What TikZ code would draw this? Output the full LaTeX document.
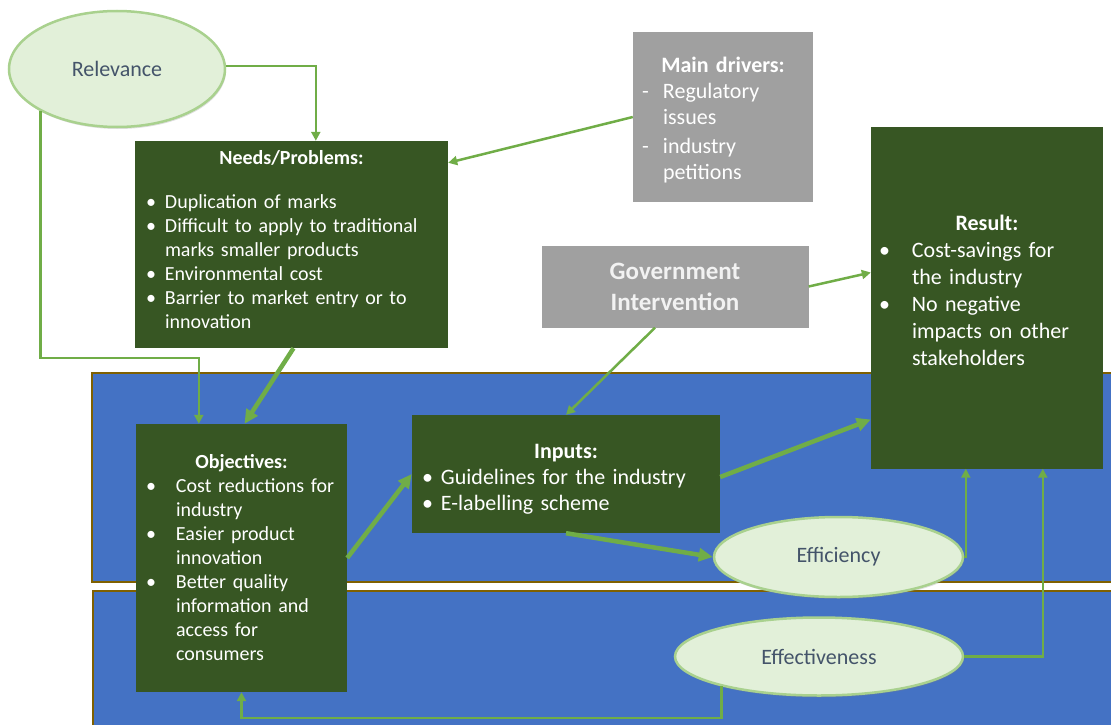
\documentclass[tikz,border=0pt]{standalone}
\usepackage{fontspec}
\setmainfont{Carlito}
\usepackage{xcolor}
\usepackage{tikz}
\usetikzlibrary{positioning, shapes.geometric, arrows.meta, shadows}

\definecolor{bandblue}{HTML}{4472C4}
\definecolor{bandedge}{HTML}{7F6000}
\definecolor{darkgreen}{HTML}{375623}
\definecolor{boxgray}{HTML}{A0A0A0}
\definecolor{linegreen}{HTML}{70AD47}
\definecolor{ovalfill}{HTML}{E2F0D9}
\definecolor{ovaledge}{HTML}{A9D18E}
\definecolor{ovaltext}{HTML}{44546A}

% one list line: symbol, indent, text
\newcommand{\itm}[3]{\par\hangindent=#2\hangafter=1\noindent\makebox[#2][l]{#1}#3}

\tikzset{
  greenbox/.style={fill=darkgreen, text=white, align=left, inner ysep=0pt},
  graybox/.style={fill=boxgray, text=white, inner ysep=0pt},
  oval/.style={ellipse, fill=ovalfill, draw=ovaledge, line width=2.5pt, text=ovaltext, inner sep=0pt,
    font=\fontsize{22}{26}\selectfont, drop shadow={opacity=0.25, shadow xshift=1pt, shadow yshift=-2pt}},
  link/.style={draw=linegreen, line width=2.5pt, -{Triangle[length=9pt,width=9pt]}},
  biglink/.style={draw=linegreen, line width=4.5pt, -{Triangle[length=14pt,width=13pt]}}
}

\begin{document}
\begin{tikzpicture}[x=1pt, y=-1pt]
            \useasboundingbox (0,0) rectangle (1111,725);
            \clip (0,0) rectangle (1111,725);

            % Draw the two blue bands
            \draw[fill=bandblue, draw=bandedge, line width=2.5pt] (92,373) rectangle (1130,582);
            \draw[fill=bandblue, draw=bandedge, line width=2.5pt] (93,591) rectangle (1130,745);

            % Draw the boxes
            \node[greenbox, text width=291pt, inner xsep=11pt, minimum height=207pt,
                  font=\fontsize{20}{24}\selectfont] (needs) at (291.5,244.5)
                {{\centering\bfseries Needs/Problems:\par}\vspace{20pt}
                 \itm{\textbullet}{19pt}{Duplication of marks}
                 \itm{\textbullet}{19pt}{Difficult to apply to traditional\newline marks smaller products}
                 \itm{\textbullet}{19pt}{Environmental cost}
                 \itm{\textbullet}{19pt}{Barrier to market entry or to\newline innovation}\par\vspace{10pt}};
            \node[graybox, align=left, text width=162pt, inner xsep=9pt, minimum height=170pt,
                  font=\fontsize{22}{26}\selectfont] (drivers) at (723,117)
                {{\centering\bfseries Main drivers:\par}
                 \itm{-}{21pt}{Regulatory\newline issues}\par\vspace{3pt}
                 \itm{-}{21pt}{industry\newline petitions}\par\vspace{-6pt}};
            \node[graybox, text=white!95!black, align=center, minimum width=267pt, minimum height=82pt,
                  font=\fontsize{25}{31}\selectfont\bfseries] (gov) at (675,286.5)
                {Government\\Intervention};
            \node[greenbox, text width=216pt, inner xsep=8pt, minimum height=342pt,
                  font=\fontsize{22}{27}\selectfont] (res) at (987,297.5)
                {{\centering\bfseries Result:\par}
                 \itm{\textbullet}{33pt}{Cost-savings for\newline the industry}
                 \itm{\textbullet}{33pt}{No negative\newline impacts on other\newline stakeholders}\par\vspace{14pt}};
            \node[greenbox, text width=191pt, inner xsep=10pt, minimum height=268pt,
                  font=\fontsize{20}{24}\selectfont] (obj) at (241.5,558)
                {{\centering\bfseries Objectives:\par}
                 \itm{\textbullet}{30pt}{Cost reductions for\newline industry}
                 \itm{\textbullet}{30pt}{Easier product\newline innovation}
                 \itm{\textbullet}{30pt}{Better quality\newline information and\newline access for\newline consumers}\par};
            \node[greenbox, text width=288pt, inner xsep=10pt, minimum height=118pt,
                  font=\fontsize{22}{26}\selectfont] (inp) at (566,474)
                {{\centering\bfseries Inputs:\par}
                 \itm{\textbullet}{19pt}{Guidelines for the industry}
                 \itm{\textbullet}{19pt}{E-labelling scheme}\par\vspace{-10pt}};

            % Draw the ovals
            \node[oval, minimum width=216pt, minimum height=116pt] (rel) at (117,69) {Relevance};
            \node[oval, minimum width=249pt, minimum height=80pt] (effi) at (838.5,557) {Efficiency};
            \node[oval, minimum width=288pt, minimum height=78pt] (effe) at (819,656.5) {Effectiveness};

            % Draw the links
            \draw[link] ([yshift=3pt]rel.east) -| ([xshift=181pt]needs.north west);
            \draw[link] (rel.209) -- (rel.209 |- 0,358) -| ([xshift=63pt]obj.north west);
            \draw[link] (drivers.west) -- ([yshift=-22pt]needs.north east);
            \draw[biglink] ([xshift=2pt]needs.south) -- ([xshift=3pt]obj.north);
            \draw[link] ([xshift=-20pt]gov.south) -- (inp.north);
            \draw[link] (gov.east) -- ([yshift=25pt]res.west);
            \draw[biglink] (obj.east) -- (inp.west);
            \draw[biglink] ([yshift=-3pt]inp.east) -- ([yshift=-122pt]res.west);
            \draw[biglink] (inp.south) -- (effi.west);
            \draw[link] (effi.east) -| ([xshift=95pt]res.south west);
            \draw[link] (effe.east) -| ([xshift=172pt]res.south west);
            \draw[link] (effe.197) -- (effe.197 |- 0,718) -| (obj.south);
        \end{tikzpicture}
\end{document}
